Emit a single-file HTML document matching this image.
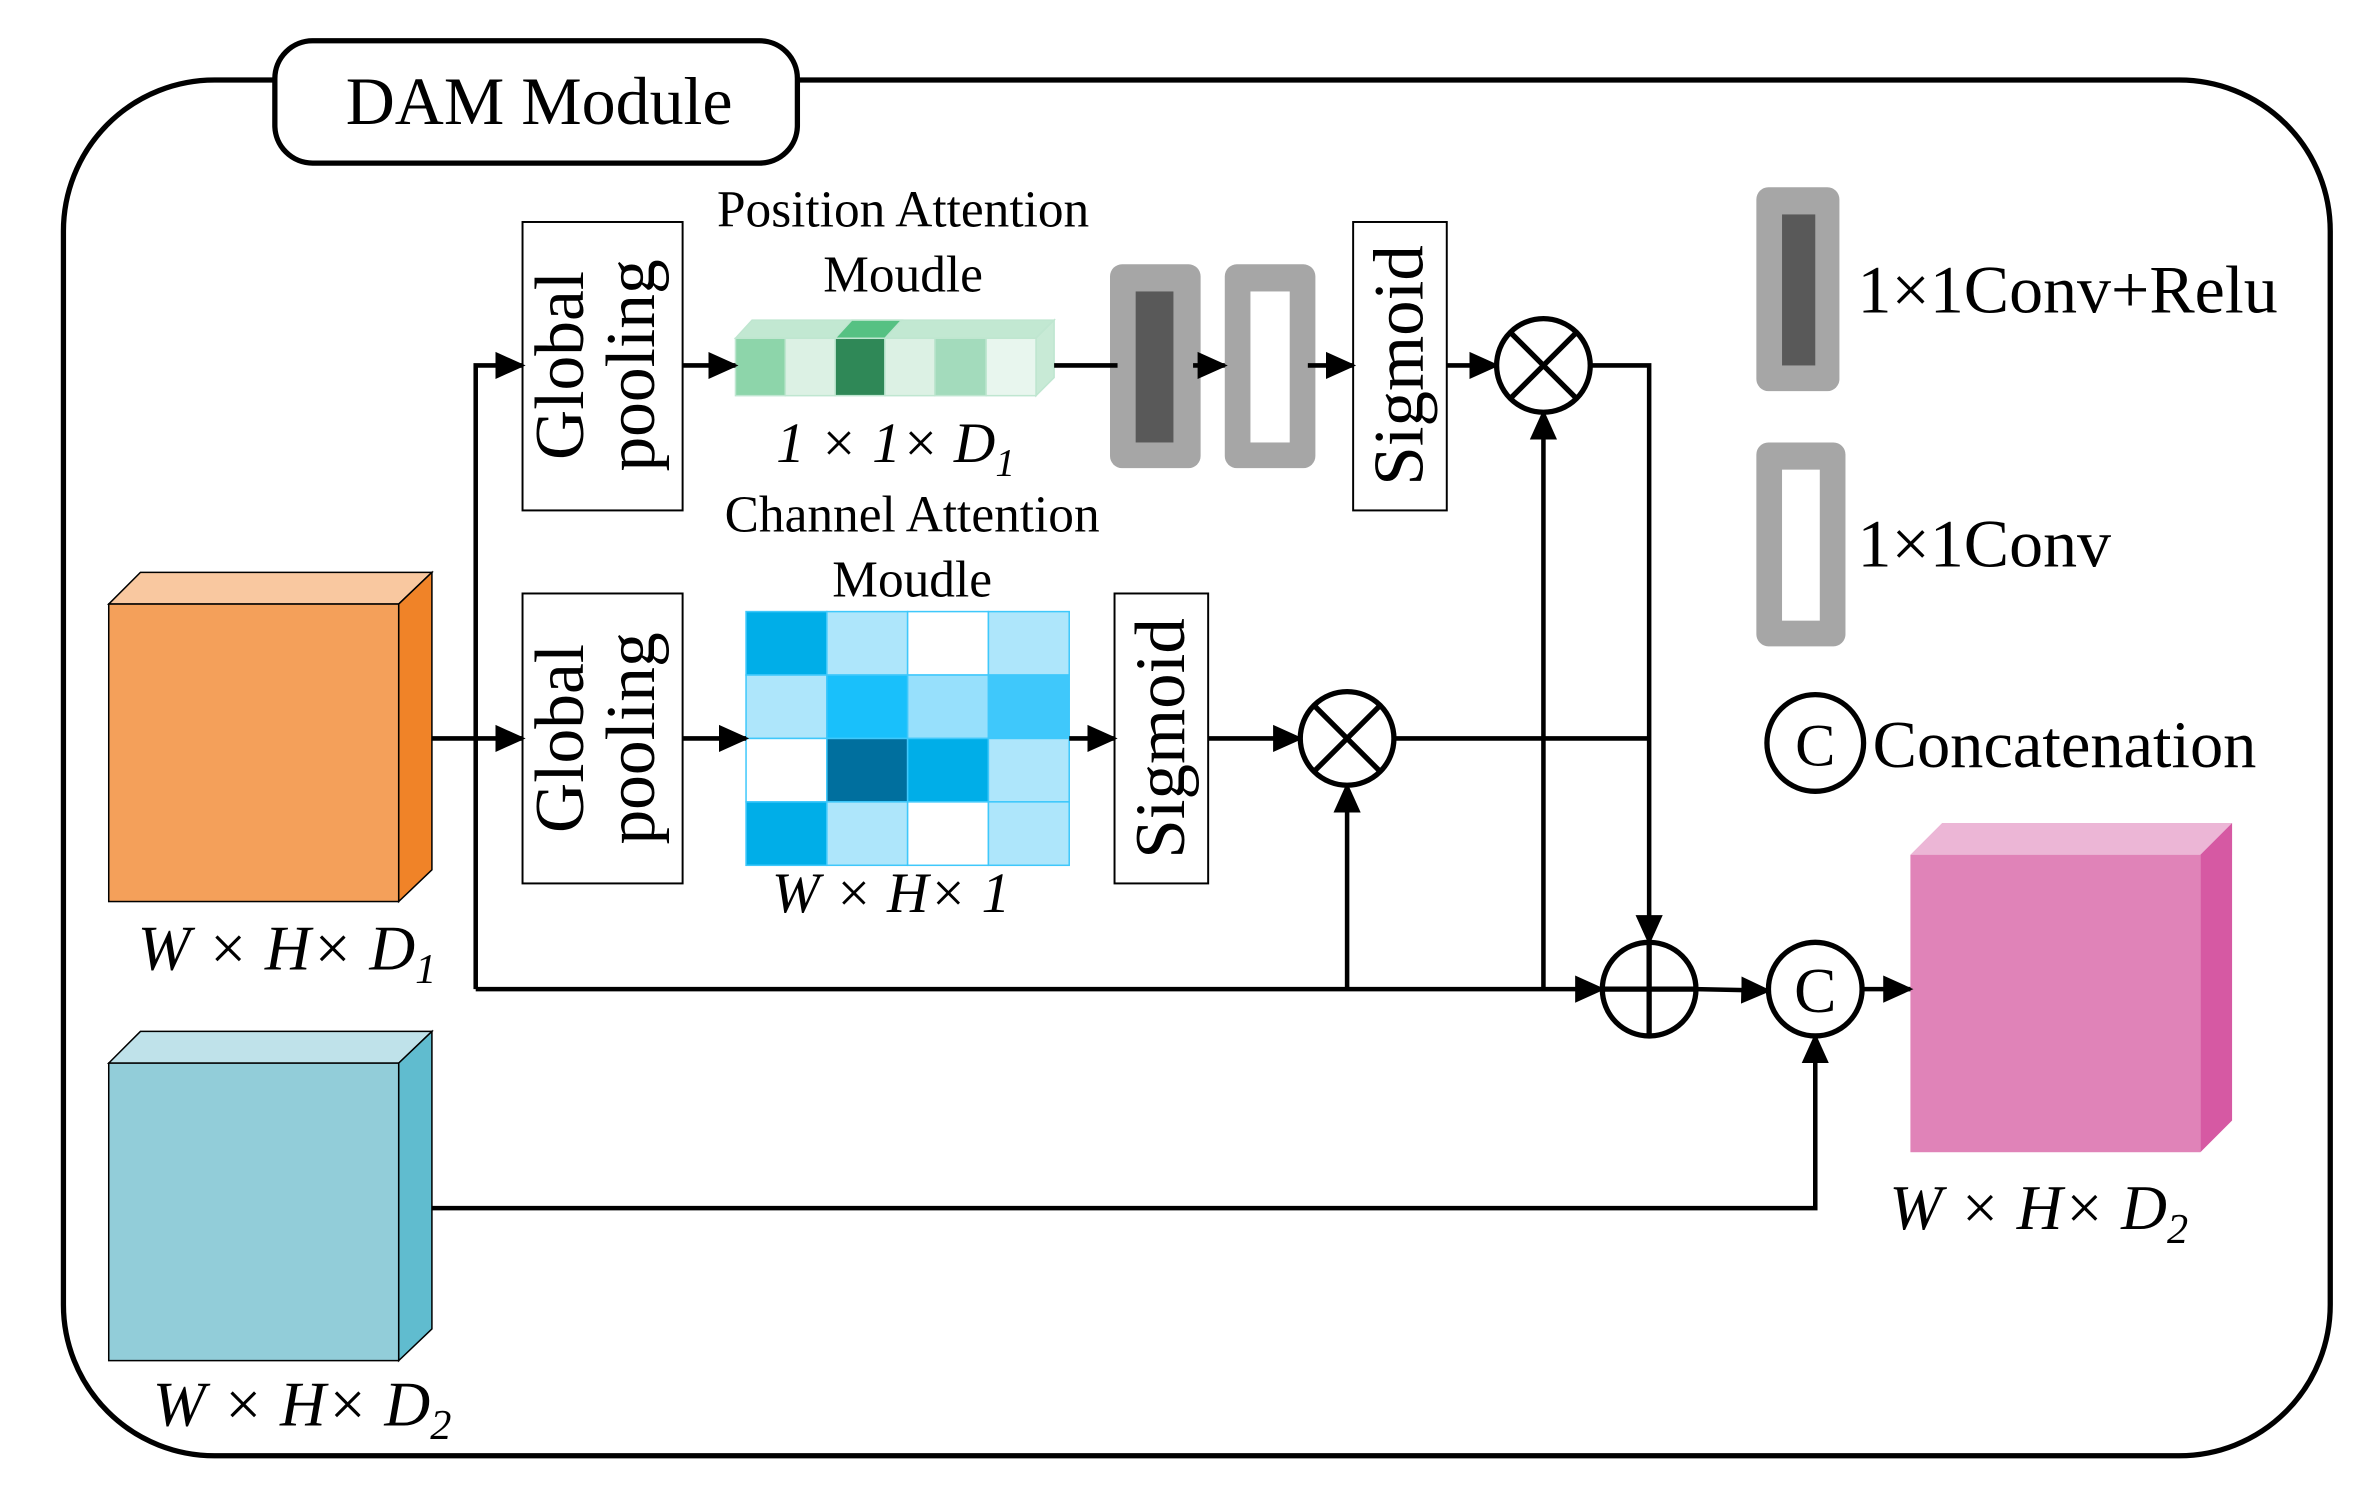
<!DOCTYPE html>
<html><head><meta charset="utf-8"><style>
html,body{margin:0;padding:0;background:#fff;}
svg{display:block;}
text{font-family:"Liberation Serif",serif;fill:#000;}
</style></head><body>
<svg width="2368" height="1492" viewBox="0 0 1568 988" preserveAspectRatio="none" xmlns="http://www.w3.org/2000/svg">
<defs>
<marker id="b" viewBox="0 0 10 10" refX="9" refY="5" markerWidth="20" markerHeight="20" orient="auto" markerUnits="userSpaceOnUse">
<path d="M0,0.5 L10,5 L0,9.5 z" fill="#000"/></marker>
</defs>
<!-- outer -->
<rect x="42" y="53" width="1501" height="911" rx="100" fill="none" stroke="#000" stroke-width="3.5"/>
<rect x="182" y="27" width="346" height="81" rx="25" fill="#fff" stroke="#000" stroke-width="3.5"/>
<text x="357" y="82" font-size="45" text-anchor="middle">DAM Module</text>

<!-- global pooling boxes -->
<rect x="346" y="147" width="106" height="191" fill="#fff" stroke="#000" stroke-width="1.3"/>
<text transform="translate(386,242) rotate(-90)" font-size="46" text-anchor="middle">Global</text>
<text transform="translate(433,242) rotate(-90)" font-size="46" text-anchor="middle">pooling</text>
<rect x="346" y="393" width="106" height="192" fill="#fff" stroke="#000" stroke-width="1.3"/>
<text transform="translate(386,489) rotate(-90)" font-size="46" text-anchor="middle">Global</text>
<text transform="translate(433,489) rotate(-90)" font-size="46" text-anchor="middle">pooling</text>

<text x="598" y="150" font-size="34" text-anchor="middle">Position Attention</text>
<text x="598" y="193" font-size="34" text-anchor="middle">Moudle</text>

<!-- green bar -->
<g stroke="#bfe6d0" stroke-width="1">
<polygon points="487,224 498,212 698,212 686,224" fill="#c2e8d2"/>
<polygon points="686,224 698,212 698,250 686,262" fill="#c8ead6"/>
<rect x="487" y="224" width="33" height="38" fill="#8dd5aa"/>
<rect x="520" y="224" width="33" height="38" fill="#dcf1e4"/>
<rect x="553" y="224" width="33" height="38" fill="#2f8857"/>
<rect x="586" y="224" width="33" height="38" fill="#dcf1e4"/>
<rect x="619" y="224" width="34" height="38" fill="#a3dbbc"/>
<rect x="653" y="224" width="33" height="38" fill="#e8f6ee"/>
<polygon points="553,224 564,212 597,212 586,224" fill="#56c183"/>
</g>
<text x="593" y="306" font-size="38" font-style="italic" text-anchor="middle">1 × 1× D<tspan font-size="26" dy="9">1</tspan></text>

<text x="604" y="352" font-size="34" text-anchor="middle">Channel Attention</text>
<text x="604" y="395" font-size="34" text-anchor="middle">Moudle</text>

<!-- blue grid -->
<g stroke="#3fc8fb" stroke-width="1">
<rect x="494" y="405" width="53.5" height="42" fill="#00aee8"/>
<rect x="547.5" y="405" width="53.5" height="42" fill="#aee6fb"/>
<rect x="601" y="405" width="53.5" height="42" fill="#fff"/>
<rect x="654.5" y="405" width="53.5" height="42" fill="#aee6fb"/>
<rect x="494" y="447" width="53.5" height="42" fill="#aee6fb"/>
<rect x="547.5" y="447" width="53.5" height="42" fill="#19c0fb"/>
<rect x="601" y="447" width="53.5" height="42" fill="#97e0fc"/>
<rect x="654.5" y="447" width="53.5" height="42" fill="#3fc8fb"/>
<rect x="494" y="489" width="53.5" height="42" fill="#fff"/>
<rect x="547.5" y="489" width="53.5" height="42" fill="#006f9e"/>
<rect x="601" y="489" width="53.5" height="42" fill="#00aee8"/>
<rect x="654.5" y="489" width="53.5" height="42" fill="#aee6fb"/>
<rect x="494" y="531" width="53.5" height="42" fill="#00aee8"/>
<rect x="547.5" y="531" width="53.5" height="42" fill="#aee6fb"/>
<rect x="601" y="531" width="53.5" height="42" fill="#fff"/>
<rect x="654.5" y="531" width="53.5" height="42" fill="#aee6fb"/>
</g>
<text x="590" y="604" font-size="38" font-style="italic" text-anchor="middle">W × H× 1</text>

<!-- conv blocks -->
<rect x="735" y="175" width="60" height="135" rx="8" fill="#a6a6a6"/>
<rect x="752" y="193" width="25" height="100" fill="#595959"/>
<rect x="811" y="175" width="60" height="135" rx="8" fill="#a6a6a6"/>
<rect x="828" y="193" width="26" height="100" fill="#fff"/>

<!-- sigmoids -->
<rect x="896" y="147" width="62" height="191" fill="#fff" stroke="#000" stroke-width="1.3"/>
<text transform="translate(942,242) rotate(-90)" font-size="47" text-anchor="middle">Sigmoid</text>
<rect x="738" y="393" width="62" height="192" fill="#fff" stroke="#000" stroke-width="1.3"/>
<text transform="translate(784,489) rotate(-90)" font-size="47" text-anchor="middle">Sigmoid</text>

<!-- legend -->
<rect x="1163" y="124" width="55" height="135" rx="8" fill="#a6a6a6"/>
<rect x="1180" y="142" width="22" height="100" fill="#595959"/>
<text x="1230" y="207" font-size="45">1×1Conv+Relu</text>
<rect x="1163" y="293" width="59" height="135" rx="8" fill="#a6a6a6"/>
<rect x="1180" y="311" width="25" height="100" fill="#fff"/>
<text x="1230" y="375" font-size="45">1×1Conv</text>
<circle cx="1202" cy="492" r="32" fill="#fff" stroke="#000" stroke-width="3.5"/>
<text x="1202" y="507" font-size="40" text-anchor="middle">C</text>
<text x="1240" y="508" font-size="44">Concatenation</text>

<!-- cubes -->
<g stroke="#000" stroke-width="1">
<polygon points="72,400 93,379 286,379 264,400" fill="#f9c8a0"/>
<polygon points="264,400 286,379 286,576 264,597" fill="#f08328"/>
<rect x="72" y="400" width="192" height="197" fill="#f4a05a"/>
<polygon points="72,704 93,683 286,683 264,704" fill="#bfe2ea"/>
<polygon points="264,704 286,683 286,880 264,901" fill="#60bccf"/>
<rect x="72" y="704" width="192" height="197" fill="#92cdd9"/>
</g>
<polygon points="1265,566 1286,545 1478,545 1457,566" fill="#ecb6d6"/>
<polygon points="1457,566 1478,545 1478,742 1457,763" fill="#d659a3"/>
<rect x="1265" y="566" width="192" height="197" fill="#e083b8"/>
<text x="190" y="642" font-size="42" font-style="italic" text-anchor="middle">W × H× D<tspan font-size="28" dy="9">1</tspan></text>
<text x="200" y="944" font-size="42" font-style="italic" text-anchor="middle">W × H× D<tspan font-size="28" dy="9">2</tspan></text>
<text x="1350" y="814" font-size="42" font-style="italic" text-anchor="middle">W × H× D<tspan font-size="28" dy="9">2</tspan></text>

<!-- connectors -->
<g stroke="#000" stroke-width="3" fill="none">
<line x1="286" y1="489" x2="346" y2="489" marker-end="url(#b)"/>
<polyline points="315,655 315,242 346,242" marker-end="url(#b)"/>
<line x1="315" y1="655" x2="1061" y2="655" marker-end="url(#b)"/>
<line x1="452" y1="242" x2="487" y2="242" marker-end="url(#b)"/>
<line x1="698" y1="242" x2="740" y2="242"/>
<line x1="790" y1="242" x2="811" y2="242" marker-end="url(#b)"/>
<line x1="866" y1="242" x2="896" y2="242" marker-end="url(#b)"/>
<line x1="958" y1="242" x2="991" y2="242" marker-end="url(#b)"/>
<polyline points="1053,242 1092,242 1092,624" marker-end="url(#b)"/>
<line x1="1022" y1="655" x2="1022" y2="273" marker-end="url(#b)"/>
<line x1="452" y1="489" x2="494" y2="489" marker-end="url(#b)"/>
<line x1="708" y1="489" x2="738" y2="489" marker-end="url(#b)"/>
<line x1="800" y1="489" x2="861" y2="489" marker-end="url(#b)"/>
<line x1="923" y1="489" x2="1092" y2="489"/>
<line x1="892" y1="655" x2="892" y2="520" marker-end="url(#b)"/>
<line x1="1123" y1="655" x2="1171" y2="656" marker-end="url(#b)"/>
<line x1="1233" y1="655" x2="1265" y2="655" marker-end="url(#b)"/>
<polyline points="286,800 1202,800 1202,686" marker-end="url(#b)"/>
</g>

<!-- operators -->
<g stroke="#000" stroke-width="3.5" fill="#fff">
<circle cx="1022" cy="242" r="31"/>
<circle cx="892" cy="489" r="31"/>
<circle cx="1092" cy="655" r="31"/>
<circle cx="1202" cy="655" r="31"/>
</g>
<g stroke="#000" stroke-width="3.5">
<line x1="1000" y1="220" x2="1044" y2="264"/><line x1="1044" y1="220" x2="1000" y2="264"/>
<line x1="870" y1="467" x2="914" y2="511"/><line x1="914" y1="467" x2="870" y2="511"/>
<line x1="1061" y1="655" x2="1123" y2="655"/><line x1="1092" y1="624" x2="1092" y2="686"/>
</g>
<text x="1202" y="670" font-size="42" text-anchor="middle">C</text>
</svg>
</body></html>
